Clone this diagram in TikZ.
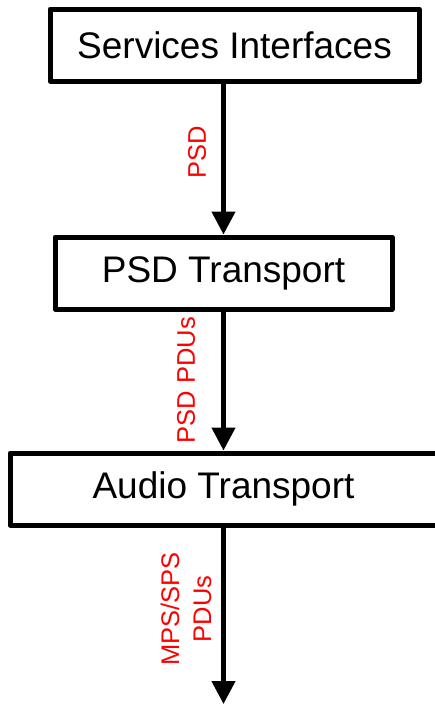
\documentclass[tikz,border=0pt]{standalone}
\usepackage{fontspec}
\setmainfont{Liberation Sans}
\usetikzlibrary{arrows.meta}
\begin{document}
\begin{tikzpicture}[x=1pt, y=-1pt,
  layer/.style={draw, line width=5pt, line join=round, minimum height=72pt,
    inner sep=0pt, font=\fontsize{37}{44}\selectfont},
  flow/.style={line width=4.5pt, -{Triangle[length=23pt, width=23pt]}},
  flowlabel/.style={text=red, rotate=90, inner sep=0pt, align=center,
    font=\fontsize{25.5}{32}\selectfont}]
\useasboundingbox (0,0) rectangle (434,704);

% protocol layers
\node[layer, minimum width=369pt] (svc)   at (234.5,45)  {Services Interfaces};
\node[layer, minimum width=337pt] (psd)   at (223.5,273) {PSD Transport};
\node[layer, minimum width=427pt] (audio) at (223.5,489) {Audio Transport};
\coordinate (out) at (223.5,704);

% data flow between layers
\draw[flow] (svc.south -| psd.north) -- (psd.north);
\draw[flow] (psd.south) -- (audio.north);
\draw[flow] (audio.south) -- (out);

% flow labels
\node[flowlabel] (l1) at (197,152) {PSD};
\node[flowlabel] (l2) at (186,380) {PSD PDUs};
\node[flowlabel] (l3) at (186,609) {MPS/SPS\\PDUs};
\end{tikzpicture}
\end{document}
